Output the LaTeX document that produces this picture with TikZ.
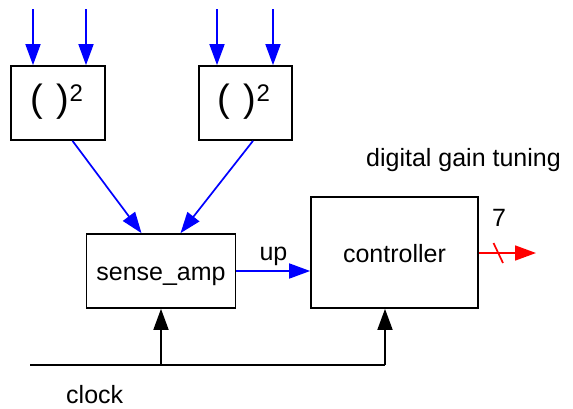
\documentclass[tikz,border=0pt]{standalone}
\usepackage{fontspec}
\setmainfont{Liberation Sans}
\usetikzlibrary{arrows.meta}
\begin{document}
\begin{tikzpicture}[x=1pt,y=-1pt,
  blk/.style={draw=black,line width=1.7pt,fill=white,inner sep=0pt},
  lbl/.style={font=\fontsize{25}{28}\selectfont,inner sep=0pt,text=black},
  sqlbl/.style={font=\fontsize{38}{40}\selectfont,inner sep=0pt,anchor=base west},
  sig/.style={line width=1.7pt,-{Triangle[length=21pt,width=15pt]}},
  bsig/.style={sig,blue},
]
\useasboundingbox (0,0) rectangle (573,408);
\node[blk,minimum width=94pt,minimum height=74pt] (sq1) at (58,103) {};
\node[blk,minimum width=93pt,minimum height=74pt] (sq2) at (245.5,103) {};
\node[blk,minimum width=149pt,minimum height=74pt] (sa) at (161,271) {};
\node[blk,minimum width=167pt,minimum height=111pt] (ctrl) at (394.5,252.5) {};

\node[sqlbl] (sq1t) at (30,111) {(\hspace{14pt})\raisebox{10pt}{\fontsize{24}{26}\selectfont 2}};
\node[sqlbl] (sq2t) at (217,111) {(\hspace{14pt})\raisebox{10pt}{\fontsize{24}{26}\selectfont 2}};
\node[lbl,anchor=base] (sat) at (161,280) {sense\_amp};
\node[lbl,anchor=base] (ctrlt) at (394.5,262) {controller};

\coordinate (i1) at (33,9);
\coordinate (i2) at (86,9);
\coordinate (i3) at (217,9);
\coordinate (i4) at (273,9);
\draw[bsig] (i1) -- (i1 |- sq1.north);
\draw[bsig] (i2) -- (i2 |- sq1.north);
\draw[bsig] (i3) -- (i3 |- sq2.north);
\draw[bsig] (i4) -- (i4 |- sq2.north);

\draw[bsig] ([xshift=14.5pt]sq1.south) -- ([xshift=-19.5pt]sa.north);
\draw[bsig] ([xshift=7.5pt]sq2.south) -- ([xshift=19.5pt]sa.north);

\draw[bsig] (sa.east) -- (sa.east -| ctrl.west);
\node[lbl,anchor=base] (up) at (273.5,260) {up};

\coordinate (rout) at (536,253);
\draw[sig,red] (ctrl.east |- rout) -- (rout);
\draw[red,line width=1.7pt] (493.5,243) -- (503,263);
\node[lbl,anchor=base west] (seven) at (492,226) {7};
\node[lbl,anchor=base west] (dgt) at (366,166) {digital gain tuning};

\coordinate (c0) at (30,365);
\coordinate (c1) at (385,365);
\draw[line width=1.7pt] (c0) -- (c1);
\draw[sig,black] (sa.south |- c0) -- (sa.south);
\draw[sig,black] (c1) -- (c1 |- ctrl.south);
\node[lbl,anchor=base west] (clk) at (66,403) {clock};
\end{tikzpicture}
\end{document}
